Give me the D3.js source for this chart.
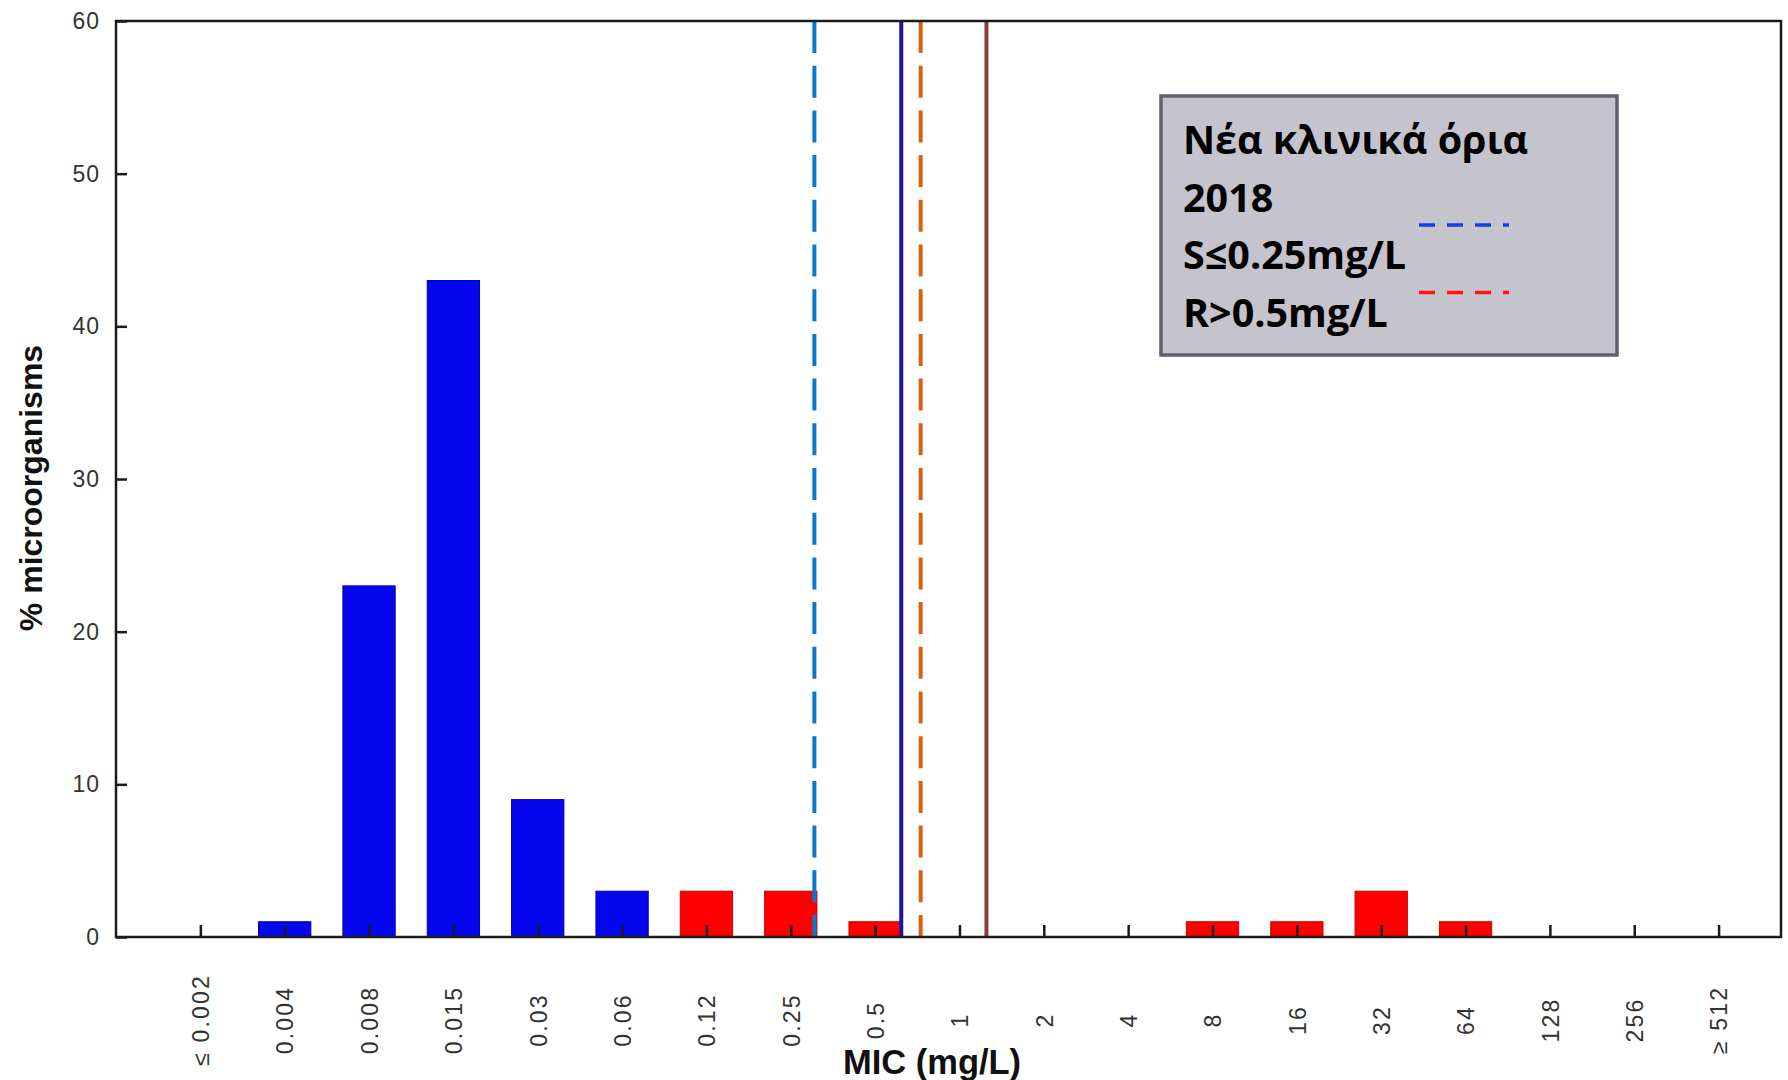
<!DOCTYPE html>
<meta charset="utf-8">
<style type="text/css">
  body { margin: 0; background: #fff; }
  .tick text { font-family: "Liberation Sans", Arial, sans-serif; fill: #333; }
  .frame { fill: none; stroke: #1a1a1a; stroke-width: 2.5; }
  .axis path { display: none; }
  .axis line { stroke: #1a1a1a; stroke-width: 2.5; }
  .title { font-family: "Liberation Sans", Arial, sans-serif; font-weight: bold; fill: #111; }
  .legend text { font-family: "Open Sans", "Noto Sans", sans-serif; font-weight: 700; fill: #000; }
</style>

<body>
</body>
<script src="https://d3js.org/d3.v7.min.js"></script>
<script>
  // MIC distribution with clinical breakpoints

  var categories = ["≤ 0.002", "0.004", "0.008", "0.015", "0.03", "0.06", "0.12", "0.25", "0.5",
    "1", "2", "4", "8", "16", "32", "64", "128", "256", "≥ 512"];
  var percents = [0, 1, 23, 43, 9, 3, 3, 3, 1, 0, 0, 0, 1, 1, 3, 1, 0, 0, 0];
  var groups = ["S", "S", "S", "S", "S", "S", "R", "R", "R", "R", "R", "R", "R", "R", "R", "R", "R", "R", "R"];
  var yTicks = [0, 10, 20, 30, 40, 50, 60];

  // vertical breakpoint lines, position given in category units (0 = first category)
  var breakLines = [7.28, 8.31, 8.54, 9.32];
  var breakStyle = [
    { color: "#0b78d0", dash: "32 12.7" },
    { color: "#1e12a6", dash: null },
    { color: "#d8620f", dash: "32 12.7" },
    { color: "#8c3a40", dash: null }
  ];

  var legendLines = ["Νέα κλινικά όρια", "2018", "S≤0.25mg/L", "R>0.5mg/L"];

  var W = 1788, H = 1080;
  var margin = { top: 21, right: 7, bottom: 143, left: 116 };
  var width = W - margin.left - margin.right,
    height = H - margin.top - margin.bottom;

  var svg = d3.select("body").append("svg")
    .attr("width", W)
    .attr("height", H);

  var g = svg.append("g")
    .attr("transform", "translate(" + margin.left + "," + margin.top + ")");

  var xScale = d3.scaleLinear()
    .domain([-1, 18.74])
    .range([0, width]);

  var yScale = d3.scaleLinear()
    .domain([0, 60])
    .range([height, 0]);

  var step = xScale(1) - xScale(0);
  var barW = step * 0.62;

  var barData = percents.map(function(v, i) {
    return { i: i, v: v, grp: groups[i] };
  }).filter(function(d) { return d.v > 0; });

  // bars
  g.selectAll(".bar")
    .data(barData)
    .enter().append("rect")
    .attr("class", "bar")
    .attr("x", function(d) { return xScale(d.i) - barW / 2; })
    .attr("y", function(d) { return yScale(d.v); })
    .attr("width", barW)
    .attr("height", function(d) { return yScale(0) - yScale(d.v); })
    .attr("fill", function(d) { return d.grp == "S" ? "#0505ee" : "#ff0000"; })
    .attr("stroke", function(d) { return d.grp == "S" ? "#0000b0" : "#c80000"; })
    .attr("stroke-width", 1);

  // x axis (ticks point up into the plot)
  var xAxis = g.append("g")
    .attr("class", "axis xaxis")
    .attr("transform", "translate(0," + height + ")")
    .call(d3.axisBottom(xScale)
      .tickValues(d3.range(categories.length))
      .tickSize(-12)
      .tickFormat(function(i) { return categories[i]; }));

  xAxis.selectAll("text")
    .attr("y", 0)
    .attr("x", 0)
    .attr("dy", "0.36em")
    .attr("transform", "translate(0,83) rotate(-90)")
    .style("text-anchor", "middle")
    .style("font-size", "23px")
    .style("letter-spacing", "2.2px");

  // y axis
  var yAxis = g.append("g")
    .attr("class", "axis yaxis")
    .call(d3.axisLeft(yScale)
      .tickValues(yTicks)
      .tickSize(-11)
      .tickPadding(16));

  yAxis.selectAll("text")
    .style("font-size", "23px")
    .style("letter-spacing", "1px");

  // breakpoint lines
  g.selectAll(".bp")
    .data(breakLines)
    .enter().append("line")
    .attr("class", "bp")
    .attr("x1", function(d) { return xScale(d); })
    .attr("x2", function(d) { return xScale(d); })
    .attr("y1", 0)
    .attr("y2", height)
    .attr("stroke", function(d, i) { return breakStyle[i].color; })
    .attr("stroke-width", 4)
    .attr("stroke-dasharray", function(d, i) { return breakStyle[i].dash; });

  // frame
  g.append("rect")
    .attr("class", "frame")
    .attr("width", width)
    .attr("height", height);

  // axis titles
  svg.append("text")
    .attr("class", "title")
    .attr("transform", "translate(42,488) rotate(-90)")
    .attr("text-anchor", "middle")
    .style("font-size", "32px")
    .text("% microorganisms");

  svg.append("text")
    .attr("class", "title")
    .attr("x", 932)
    .attr("y", 1074)
    .attr("text-anchor", "middle")
    .style("font-size", "34.5px")
    .text("MIC (mg/L)");

  // legend box
  var legend = svg.append("g")
    .attr("class", "legend")
    .attr("transform", "translate(1161,96)");

  legend.append("rect")
    .attr("width", 456)
    .attr("height", 259)
    .attr("fill", "#c5c4cc")
    .attr("stroke", "#5d6170")
    .attr("stroke-width", 3.5);

  legend.selectAll("text")
    .data(legendLines)
    .enter().append("text")
    .attr("x", 22)
    .attr("y", function(d, i) { return 58 + i * 57.5; })
    .style("font-size", "39.5px")
    .text(function(d) { return d; });

  legend.selectAll(".ldash")
    .data(["#1040e0", "#ff1414"])
    .enter().append("line")
    .attr("class", "ldash")
    .attr("x1", 258)
    .attr("x2", 348)
    .attr("y1", function(d, i) { return 129 + i * 67.5; })
    .attr("y2", function(d, i) { return 129 + i * 67.5; })
    .attr("stroke", function(d) { return d; })
    .attr("stroke-width", 3.5)
    .attr("stroke-dasharray", "16 12");
</script>
